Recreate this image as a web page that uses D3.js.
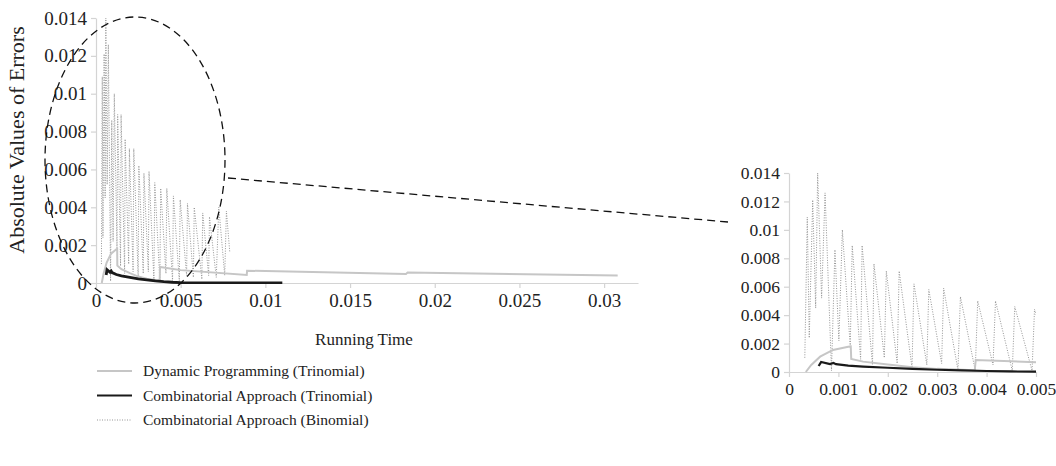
<!DOCTYPE html>
<html lang="en">
<head>
<meta charset="UTF-8">
<title>Absolute Values of Errors vs Running Time</title>
<script src="https://cdnjs.cloudflare.com/ajax/libs/d3/7.8.5/d3.min.js"></script>
<style>
    body { margin: 0; background: #fff; }
    svg { display: block; font-family: "Liberation Serif", "DejaVu Serif", serif; }
    .tick text { fill: #222; font-size: 19px; font-family: "Liberation Serif", serif; }
    .axis path, .axis line { stroke: #d4d4d4; stroke-width: 1.2px; }
    .lbl { fill: #222; font-size: 17px; font-family: "Liberation Serif", serif; }
    .dp { fill: none; stroke: #c6c6c6; stroke-width: 2px; }
    .ca { fill: none; stroke: #1a1a1a; stroke-width: 2.4px; }
    .bin { fill: none; stroke: #959595; stroke-width: 1px; stroke-dasharray: 1, 1.5; }
    .guide { fill: none; stroke: #111; stroke-width: 1.3px; stroke-dasharray: 8, 5; }
</style>
</head>
<body>
<svg id="chart" width="1056" height="466"></svg>
<script>
// series: [running time, absolute error]
const dpTrinomial = [
    [0.00034, 0], [0.00045, 0.0005], [0.00063, 0.00108], [0.00089, 0.00155], [0.0012, 0.00178],
    [0.00125, 0.0018], [0.00126, 0.00092], [0.0015, 0.00073], [0.002, 0.00052], [0.0025, 0.00034],
    [0.003, 0.00022], [0.00376, 0.00012], [0.00378, 0.00085], [0.005, 0.00068], [0.0089, 0.00042],
    [0.00892, 0.00065], [0.0183, 0.00048], [0.0184, 0.00056], [0.0308, 0.00039]
];
const caTrinomial = [
    [0.0006, 0.00042], [0.00065, 0.0007], [0.00083, 0.00056], [0.0009, 0.00063], [0.00095, 0.00055],
    [0.0012, 0.00045], [0.0015, 0.00038], [0.002, 0.0003], [0.0025, 0.00022], [0.003, 0.00016],
    [0.0035, 0.00011], [0.004, 0.00007], [0.0045, 0.00004], [0.005, 0.00002], [0.007, 0.00001],
    [0.011, 0.00001]
];
const caBinomial = [
    [0.00032, 0.0010], [0.00037, 0.0109], [0.00041, 0.0024], [0.00048, 0.0121], [0.00054, 0.0045],
    [0.00058, 0.0140], [0.00066, 0.0052], [0.00073, 0.0126], [0.00086, 0.0001], [0.00093, 0.0086],
    [0.00101, 0.0022], [0.00108, 0.0100], [0.00124, 0.0018], [0.00128, 0.0089], [0.00145, 0.0009],
    [0.00148, 0.0089], [0.00169, 0.0005], [0.00172, 0.0076], [0.00193, 0.0010], [0.00197, 0.0071],
    [0.00219, 0.0006], [0.00223, 0.0071], [0.00249, 0.0003], [0.00253, 0.0062], [0.00279, 0.0005],
    [0.00283, 0.0058], [0.00309, 0.0006], [0.00313, 0.0059], [0.00342, 0.00014], [0.00347, 0.0053],
    [0.00377, 0.0001], [0.00382, 0.0050], [0.00413, 0.0005], [0.00418, 0.0050], [0.00452, 0.0001],
    [0.00457, 0.0046], [0.00492, 0.0001], [0.00497, 0.0044], [0.00535, 0.0004], [0.0054, 0.0042],
    [0.00575, 0.0003], [0.0058, 0.0040], [0.00625, 0.0002], [0.0063, 0.0037], [0.00665, 0.0004],
    [0.0067, 0.0035], [0.0071, 0.0003], [0.00725, 0.0040], [0.0076, 0.0004], [0.0077, 0.0038],
    [0.0079, 0.0016]
];
const mainXTicks = [0, 0.005, 0.01, 0.015, 0.02, 0.025, 0.03];
const insetXTicks = [0, 0.001, 0.002, 0.003, 0.004, 0.005];
const yTicks = [0, 0.002, 0.004, 0.006, 0.008, 0.01, 0.012, 0.014];
const legendNames = ["Dynamic Programming (Trinomial)", "Combinatorial Approach (Trinomial)", "Combinatorial Approach (Binomial)"];

const svg = d3.select("#chart");
const fmt = d => d === 0 ? "0" : String(+d.toFixed(3));

function drawPanel(g, x, y, xTicks, clipId) {
    const xa = g.append("g").attr("class", "axis")
        .attr("transform", `translate(0,${y.range()[0]})`)
        .call(d3.axisBottom(x).tickValues(xTicks).tickFormat(fmt).tickSize(5).tickSizeOuter(0).tickPadding(6));
    const ya = g.append("g").attr("class", "axis")
        .attr("transform", `translate(${x.range()[0]},0)`)
        .call(d3.axisLeft(y).tickValues(yTicks).tickFormat(fmt).tickSize(5).tickSizeOuter(0).tickPadding(4));
    xa.attr("font-family", null).attr("font-size", null);
    ya.attr("font-family", null).attr("font-size", null);

    g.append("clipPath").attr("id", clipId).append("rect")
        .attr("x", x.range()[0]).attr("y", y.range()[1] - 5)
        .attr("width", x.range()[1] - x.range()[0]).attr("height", y.range()[0] - y.range()[1] + 6);

    const line = d3.line().x(d => x(d[0])).y(d => y(d[1]));
    const lines = g.append("g").attr("clip-path", `url(#${clipId})`);
    lines.append("path").attr("class", "bin").attr("d", line(caBinomial));
    lines.append("path").attr("class", "dp").attr("d", line(dpTrinomial));
    lines.append("path").attr("class", "ca").attr("d", line(caTrinomial));
}

// main panel
const xMain = d3.scaleLinear().domain([0, 0.032]).range([96, 638]);
const yMain = d3.scaleLinear().domain([0, 0.014]).range([283, 18]);
drawPanel(svg.append("g"), xMain, yMain, mainXTicks, "clipMain");

// inset panel
const xIn = d3.scaleLinear().domain([0, 0.005]).range([789, 1036]);
const yIn = d3.scaleLinear().domain([0, 0.014]).range([372, 173]);
const inset = svg.append("g");
drawPanel(inset, xIn, yIn, insetXTicks, "clipInset");
inset.selectAll(".tick text").style("font-size", "17.5px");
svg.select(".ca").style("stroke-width", "2.8px");
inset.select(".ca").style("stroke-width", "2.2px");

// axis titles
svg.append("text").attr("class", "lbl").attr("text-anchor", "middle")
    .attr("x", 364).attr("y", 345).text("Running Time");
svg.append("text").attr("class", "lbl").attr("text-anchor", "middle")
    .style("font-size", "22px")
    .attr("transform", "translate(24,140) rotate(-90)").text("Absolute Values of Errors");

// zoom guide
svg.append("ellipse").attr("class", "guide")
    .attr("cx", 135).attr("cy", 160).attr("rx", 90).attr("ry", 143);
svg.append("line").attr("class", "guide")
    .attr("x1", 228).attr("y1", 178).attr("x2", 728).attr("y2", 222);

// legend
const legend = svg.append("g").attr("transform", "translate(97,371)");
const legendClass = ["dp", "ca", "bin"];
legendNames.forEach((name, i) => {
    const row = legend.append("g").attr("transform", `translate(0,${i * 24.5})`);
    row.append("line").attr("class", legendClass[i])
        .attr("x1", 0).attr("x2", 35).attr("y1", 0).attr("y2", 0)
        .style("stroke-width", legendClass[i] === "ca" ? "2px" : null);
    row.append("text").attr("class", "lbl").attr("x", 46).attr("dy", "0.35em")
        .style("font-size", "15.5px").text(name);
});
</script>
</body>
</html>
